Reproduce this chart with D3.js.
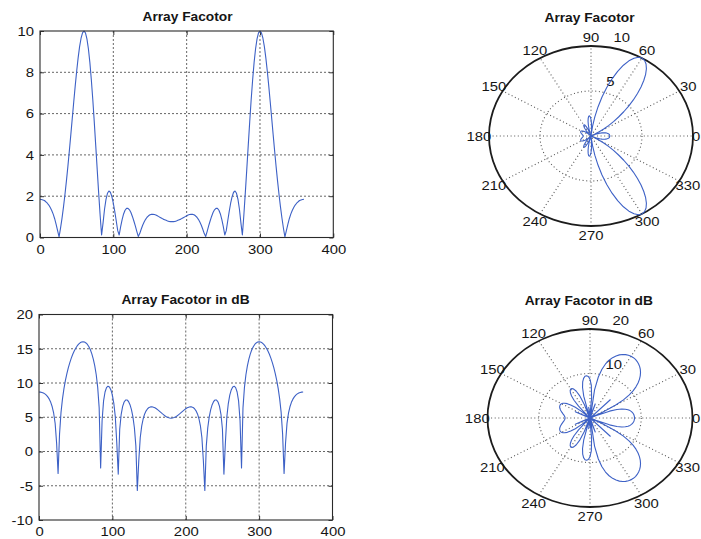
<!DOCTYPE html>
<html>
<head>
<meta charset="utf-8">
<script src="https://cdn.jsdelivr.net/npm/d3@7"></script>
<style>
  html, body { margin: 0; padding: 0; background: #fff; }
  svg { display: block; }
  text { font-family: Arial, "Liberation Sans", Helvetica, sans-serif; fill: #151515; }
  .grid { stroke: #555; stroke-width: 0.9; stroke-dasharray: 2 2; }
  .pgrid { stroke: #555; stroke-width: 1.1; stroke-dasharray: 1 2.6; fill: none; }
  .ax line { stroke: #333; stroke-width: 1; }
  .ax text { font-size: 13.5px; }
</style>
</head>
<body>
<svg id="fig" width="701" height="539"></svg>
<script>
// Sampling angles (degrees) of the array factor
const angles = [
  0, 2, 4, 6, 8, 10, 12, 14, 16, 18,
  20, 22, 24, 26, 28, 30, 32, 34, 36, 38,
  40, 42, 44, 46, 48, 50, 52, 54, 56, 58,
  60, 62, 64, 66, 68, 70, 72, 74, 76, 78,
  80, 82, 84, 86, 88, 90, 92, 94, 96, 98,
  100, 102, 104, 106, 108, 110, 112, 114, 116, 118,
  120, 122, 124, 126, 128, 130, 132, 134, 136, 138,
  140, 142, 144, 146, 148, 150, 152, 154, 156, 158,
  160, 162, 164, 166, 168, 170, 172, 174, 176, 178,
  180,
  182, 184, 186, 188, 190, 192, 194, 196, 198, 200,
  202, 204, 206, 208, 210, 212, 214, 216, 218, 220,
  222, 224, 226, 228, 230, 232, 234, 236, 238, 240,
  242, 244, 246, 248, 250, 252, 254, 256, 258, 260,
  262, 264, 266, 268, 270, 272, 274, 276, 278, 280,
  282, 284, 286, 288, 290, 292, 294, 296, 298, 300,
  302, 304, 306, 308, 310, 312, 314, 316, 318, 320,
  322, 324, 326, 328, 330, 332, 334, 336, 338, 340,
  342, 344, 346, 348, 350, 352, 354, 356, 358, 360
];

// |AF| of the 10-element array (linear)
const afLinear = [
  1.85, 1.84, 1.82, 1.79, 1.73, 1.66, 1.57, 1.45, 1.31, 1.13,
  0.91, 0.64, 0.33, 0.03, 0.45, 0.93, 1.47, 2.07, 2.73, 3.43,
  4.19, 4.97, 5.77, 6.56, 7.33, 8.05, 8.70, 9.24, 9.65, 9.91,
  10.00, 9.91, 9.62, 9.14, 8.48, 7.64, 6.68, 5.60, 4.46, 3.30,
  2.16, 1.08, 0.12, 0.71, 1.37, 1.85, 2.14, 2.25, 2.19, 1.98,
  1.66, 1.25, 0.80, 0.33, 0.12, 0.53, 0.87, 1.14, 1.32, 1.41,
  1.41, 1.34, 1.21, 1.02, 0.80, 0.56, 0.30, 0.05, 0.19, 0.40,
  0.59, 0.75, 0.88, 0.98, 1.05, 1.10, 1.12, 1.12, 1.11, 1.09,
  1.05, 1.01, 0.97, 0.93, 0.89, 0.86, 0.83, 0.80, 0.78, 0.77,
  0.77,
  0.77, 0.78, 0.80, 0.83, 0.86, 0.89, 0.93, 0.97, 1.01, 1.05,
  1.09, 1.11, 1.12, 1.12, 1.10, 1.05, 0.98, 0.88, 0.75, 0.59,
  0.40, 0.19, 0.05, 0.30, 0.56, 0.80, 1.02, 1.21, 1.34, 1.41,
  1.41, 1.32, 1.14, 0.87, 0.53, 0.12, 0.33, 0.80, 1.25, 1.66,
  1.98, 2.19, 2.25, 2.14, 1.85, 1.37, 0.71, 0.12, 1.08, 2.16,
  3.30, 4.46, 5.60, 6.68, 7.64, 8.48, 9.14, 9.62, 9.91, 10.00,
  9.91, 9.65, 9.24, 8.70, 8.05, 7.33, 6.56, 5.77, 4.97, 4.19,
  3.43, 2.73, 2.07, 1.47, 0.93, 0.45, 0.03, 0.33, 0.64, 0.91,
  1.13, 1.31, 1.45, 1.57, 1.66, 1.73, 1.79, 1.82, 1.84, 1.85
];

// Same array factor in dB
const afDb = [
  8.69, 8.67, 8.62, 8.54, 8.41, 8.23, 7.98, 7.64, 7.18, 6.53,
  5.59, 4.11, 1.24, -3.2, 2.56, 5.71, 7.69, 9.18, 10.38, 11.38,
  12.24, 12.98, 13.63, 14.19, 14.67, 15.08, 15.41, 15.67, 15.87, 15.98,
  16.02, 15.98, 15.85, 15.63, 15.30, 14.85, 14.26, 13.50, 12.51, 11.20,
  9.36, 6.37, -2.4, 4.53, 7.39, 8.69, 9.32, 9.53, 9.42, 8.99,
  8.22, 7.00, 5.05, 1.23, -3.3, 3.24, 5.43, 6.58, 7.22, 7.51,
  7.52, 7.30, 6.84, 6.12, 5.06, 3.47, 0.82, -5.7, -1.31, 2.05,
  3.74, 4.78, 5.48, 5.94, 6.24, 6.43, 6.51, 6.52, 6.47, 6.38,
  6.24, 6.08, 5.90, 5.71, 5.52, 5.35, 5.18, 5.05, 4.95, 4.89,
  4.86,
  4.89, 4.95, 5.05, 5.18, 5.35, 5.52, 5.71, 5.90, 6.08, 6.24,
  6.38, 6.47, 6.52, 6.51, 6.43, 6.24, 5.94, 5.48, 4.78, 3.74,
  2.05, -1.31, -5.7, 0.82, 3.47, 5.06, 6.12, 6.84, 7.30, 7.52,
  7.51, 7.22, 6.58, 5.43, 3.24, -3.3, 1.23, 5.05, 7.00, 8.22,
  8.99, 9.42, 9.53, 9.32, 8.69, 7.39, 4.53, -2.4, 6.37, 9.36,
  11.20, 12.51, 13.50, 14.26, 14.85, 15.30, 15.63, 15.85, 15.98, 16.02,
  15.98, 15.87, 15.67, 15.41, 15.08, 14.67, 14.19, 13.63, 12.98, 12.24,
  11.38, 10.38, 9.18, 7.69, 5.71, 2.56, -3.2, 1.24, 4.11, 5.59,
  6.53, 7.18, 7.64, 7.98, 8.23, 8.41, 8.54, 8.62, 8.67, 8.69
];

// Axis ticks and labels
const xTicks = [0, 100, 200, 300, 400];
const yTicksLinear = [0, 2, 4, 6, 8, 10];
const yTicksDb = [-10, -5, 0, 5, 10, 15, 20];
const spokeAngles = [0, 30, 60, 90, 120, 150];
const angleLabels = [0, 30, 60, 90, 120, 150, 180, 210, 240, 270, 300, 330];
const ringsLinear = [5, 10];
const ringsDb = [10, 20];
const titles = ["Array Facotor", "Array Facotor in dB"];

const SX = 1.1;             // horizontal stretch of the lettering
const LABEL_SIZE = 13.5;
const LINE_COLOR = "#3d61c6";
const WIDTH = 701;

const svg = d3.select("#fig");
svg.append("rect").attr("width", WIDTH).attr("height", 539).attr("fill", "#fff");

function stretchedText(parent, x, y, str, o = {}) {
  return parent.append("text")
    .attr("transform", `translate(${x},${y}) scale(${SX},1)`)
    .attr("x", o.dx || 0)
    .attr("dy", o.dy || "0.35em")
    .attr("text-anchor", o.anchor || "middle")
    .style("font-size", (o.size || LABEL_SIZE) + "px")
    .style("font-weight", o.weight || "normal")
    .text(str);
}

function drawCartesian(p) {
  const g = svg.append("g");
  const x = d3.scaleLinear()
    .domain([xTicks[0], xTicks[xTicks.length - 1]])
    .range([p.left, p.right]);
  const y = d3.scaleLinear()
    .domain([p.yTicks[0], p.yTicks[p.yTicks.length - 1]])
    .range([p.bottom, p.top]);

  // dotted grid
  g.selectAll(null).data(xTicks.slice(1, -1)).join("line").attr("class", "grid")
    .attr("x1", d => x(d)).attr("x2", d => x(d))
    .attr("y1", p.top).attr("y2", p.bottom);
  g.selectAll(null).data(p.yTicks.slice(1, -1)).join("line").attr("class", "grid")
    .attr("x1", p.left).attr("x2", p.right)
    .attr("y1", d => y(d)).attr("y2", d => y(d));

  // axes with inward ticks on all four sides
  const fmt = d => String(d);
  g.append("g").attr("class", "ax").attr("transform", `translate(0,${p.bottom})`)
    .call(d3.axisBottom(x).tickValues(xTicks).tickSize(-4).tickPadding(6.5).tickFormat(fmt));
  g.append("g").attr("class", "ax").attr("transform", `translate(${p.left},0)`)
    .call(d3.axisLeft(y).tickValues(p.yTicks).tickSize(-4).tickPadding(5.4).tickFormat(fmt));
  g.append("g").attr("class", "ax").attr("transform", `translate(0,${p.top})`)
    .call(d3.axisTop(x).tickValues(xTicks).tickSize(-4).tickFormat(""));
  g.append("g").attr("class", "ax").attr("transform", `translate(${p.right},0)`)
    .call(d3.axisRight(y).tickValues(p.yTicks).tickSize(-4).tickFormat(""));
  g.selectAll(".ax .domain").remove();
  g.selectAll(".ax").attr("font-size", null).attr("font-family", null);
  g.selectAll(".ax text").attr("transform", `scale(${SX},1)`);

  // curve
  const line = d3.line().x(d => x(d[0])).y(d => y(d[1]));
  g.append("path")
    .datum(angles.map((a, i) => [a, p.values[i]]))
    .attr("d", line)
    .attr("fill", "none")
    .attr("stroke", LINE_COLOR)
    .attr("stroke-width", 1.1)
    .attr("stroke-linejoin", "round");

  // box
  g.append("rect")
    .attr("x", p.left).attr("y", p.top)
    .attr("width", p.right - p.left).attr("height", p.bottom - p.top)
    .attr("fill", "none").attr("stroke", "#2a2a2a").attr("stroke-width", 1.1);

  stretchedText(g, p.titleX, p.titleY, p.title, { size: 12.5, weight: "bold" });
}

function drawPolar(p) {
  const g = svg.append("g");
  const rx = d3.scaleLinear().domain([0, p.rmax]).range([0, p.rx]);
  const ry = d3.scaleLinear().domain([0, p.rmax]).range([0, p.ry]);
  const rad = deg => deg * Math.PI / 180;
  const px = (deg, r) => p.cx + rx(r) * Math.cos(rad(deg));
  const py = (deg, r) => p.cy - ry(r) * Math.sin(rad(deg));

  g.append("ellipse")
    .attr("cx", p.cx).attr("cy", p.cy)
    .attr("rx", rx(p.rmax)).attr("ry", ry(p.rmax))
    .attr("fill", "#fff");

  // dotted spokes through the origin
  g.selectAll(null).data(spokeAngles).join("line").attr("class", "pgrid")
    .attr("x1", d => px(d, -p.rmax)).attr("y1", d => py(d, -p.rmax))
    .attr("x2", d => px(d, p.rmax)).attr("y2", d => py(d, p.rmax));

  // dotted inner rings
  g.selectAll(null).data(p.rings.slice(0, -1)).join("ellipse").attr("class", "pgrid")
    .attr("cx", p.cx).attr("cy", p.cy)
    .attr("rx", d => rx(d)).attr("ry", d => ry(d));

  // solid outer ring
  g.append("ellipse")
    .attr("cx", p.cx).attr("cy", p.cy)
    .attr("rx", rx(p.rmax)).attr("ry", ry(p.rmax))
    .attr("fill", "none").attr("stroke", "#1c1c1c").attr("stroke-width", 1.8);

  // angle labels (kept inside the page on the right edge)
  angleLabels.forEach(a => {
    const t = stretchedText(g, px(a, 1.1 * p.rmax), py(a, 1.1 * p.rmax), String(a));
    const half = t.node().getBBox().width * SX / 2;
    const lx = Math.min(px(a, 1.1 * p.rmax), WIDTH - half - 0.8);
    t.attr("transform", `translate(${lx},${py(a, 1.1 * p.rmax)}) scale(${SX},1)`);
  });

  // ring labels along the 82 degree ray
  const rinc = p.rings[1] - p.rings[0];
  p.rings.forEach(rv => {
    const rr = rv + rinc / 20;
    stretchedText(g, px(82, rr), py(82, rr), String(rv),
      { anchor: "start", dx: 7.2, dy: "-0.21em" });
  });

  // pattern
  const line = d3.line().x(d => px(d[0], d[1])).y(d => py(d[0], d[1]));
  g.append("path")
    .datum(angles.map((a, i) => [a, p.values[i]]))
    .attr("d", line)
    .attr("fill", "none")
    .attr("stroke", LINE_COLOR)
    .attr("stroke-width", 1.1)
    .attr("stroke-linejoin", "round");

  stretchedText(g, p.titleX, p.titleY, p.title, { size: 12.5, weight: "bold" });
}

drawCartesian({
  left: 40, right: 333.3, top: 31, bottom: 237.5,
  yTicks: yTicksLinear, values: afLinear,
  title: titles[0], titleX: 187.5, titleY: 16.7
});

drawCartesian({
  left: 39, right: 332.5, top: 314.5, bottom: 520,
  yTicks: yTicksDb, values: afDb,
  title: titles[1], titleX: 185.5, titleY: 300
});

drawPolar({
  cx: 591, cy: 136, rx: 102, ry: 90, rmax: 10,
  rings: ringsLinear, values: afLinear,
  title: titles[0], titleX: 589.5, titleY: 17.3
});

drawPolar({
  cx: 590, cy: 418, rx: 102.5, ry: 89, rmax: 20,
  rings: ringsDb, values: afDb,
  title: titles[1], titleX: 588.8, titleY: 300.7
});
</script>
</body>
</html>
